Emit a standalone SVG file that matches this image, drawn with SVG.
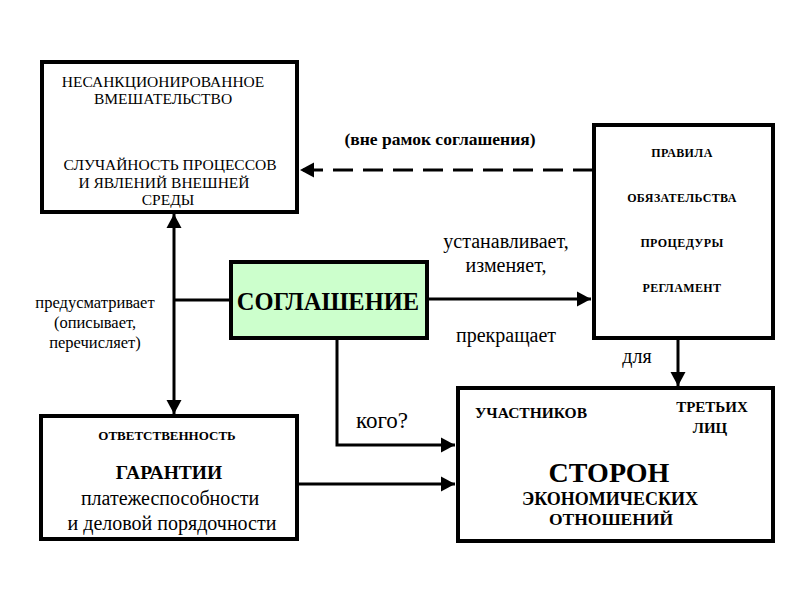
<svg xmlns="http://www.w3.org/2000/svg" width="800" height="600" viewBox="0 0 800 600">
<style>
text{font-family:'Liberation Serif','DejaVu Serif','Noto Serif',serif;fill:#000;text-anchor:middle}
.b{font-weight:bold}
.r{font-size:12px;font-weight:bold;letter-spacing:0.4px}
.box{fill:#fff;stroke:#000;stroke-width:4}
.ln{fill:none;stroke:#000;stroke-width:3}
</style>
<defs>
<marker id="ah" markerUnits="userSpaceOnUse" markerWidth="15" markerHeight="16" refX="14" refY="8" orient="auto-start-reverse">
<path d="M0,0.5 L14,8 L0,15.5 z" fill="#000"/>
</marker>
</defs>
<rect width="800" height="600" fill="#fff"/>
<g id="connectors">
<path class="ln" d="M593,170 H300" stroke-dasharray="20,10" marker-end="url(#ah)"/>
<path class="ln" d="M174,214 V414" marker-start="url(#ah)" marker-end="url(#ah)"/>
<path class="ln" d="M174,300 H231"/>
<path class="ln" d="M427,299 H591" marker-end="url(#ah)"/>
<path class="ln" d="M337,338 V445 H455" marker-end="url(#ah)"/>
<path class="ln" d="M297,484 H455" marker-end="url(#ah)"/>
<path class="ln" d="M678,338 V386" marker-end="url(#ah)"/>
</g>
<g id="external">
<rect class="box" x="42" y="62" width="255" height="150"/>
<text x="163" y="87" font-size="15.5">НЕСАНКЦИОНИРОВАННОЕ</text>
<text x="163" y="104" font-size="15.5">ВМЕШАТЕЛЬСТВО</text>
<text x="170" y="170" font-size="15.5">СЛУЧАЙНОСТЬ ПРОЦЕССОВ</text>
<text x="164" y="188" font-size="15.5">И ЯВЛЕНИЙ ВНЕШНЕЙ</text>
<text x="168" y="205" font-size="15.5">СРЕДЫ</text>
</g>
<g id="rules">
<rect class="box" x="594" y="125" width="179" height="213"/>
<text class="r" x="682" y="157">ПРАВИЛА</text>
<text class="r" x="682" y="202">ОБЯЗАТЕЛЬСТВА</text>
<text class="r" x="682" y="247">ПРОЦЕДУРЫ</text>
<text class="r" x="682" y="292">РЕГЛАМЕНТ</text>
</g>
<g id="agreement">
<rect x="231" y="262" width="196" height="76" fill="#ccffcc" stroke="#000" stroke-width="4"/>
<text class="b" x="328" y="310" font-size="24.5">СОГЛАШЕНИЕ</text>
</g>
<g id="guarantees">
<rect class="box" x="41" y="416" width="256" height="123"/>
<text class="b" x="167" y="440" font-size="13">ОТВЕТСТВЕННОСТЬ</text>
<text class="b" x="169" y="479" font-size="19.5">ГАРАНТИИ</text>
<text x="170" y="505" font-size="20">платежеспособности</text>
<text x="172" y="530" font-size="20">и деловой порядочности</text>
</g>
<g id="parties">
<rect class="box" x="458" y="388" width="315" height="153"/>
<text class="b" x="531" y="418" font-size="15.5">УЧАСТНИКОВ</text>
<text class="b" x="712" y="412" font-size="15">ТРЕТЬИХ</text>
<text class="b" x="710" y="433" font-size="15">ЛИЦ</text>
<text class="b" x="609" y="482" font-size="28">СТОРОН</text>
<text class="b" x="610" y="505" font-size="18">ЭКОНОМИЧЕСКИХ</text>
<text class="b" x="611" y="525" font-size="17.5">ОТНОШЕНИЙ</text>
</g>
<g id="labels">
<text class="b" x="440" y="145" font-size="17.5">(вне рамок соглашения)</text>
<text x="95" y="308" font-size="16.5">предусматривает</text>
<text x="95" y="328" font-size="16.5">(описывает,</text>
<text x="95" y="348" font-size="16.5">перечисляет)</text>
<text x="506" y="248" font-size="20">устанавливает,</text>
<text x="506" y="272" font-size="20">изменяет,</text>
<text x="506" y="342" font-size="20">прекращает</text>
<text x="637" y="363" font-size="20">для</text>
<text x="382" y="428" font-size="23">кого?</text>
</g>
</svg>
